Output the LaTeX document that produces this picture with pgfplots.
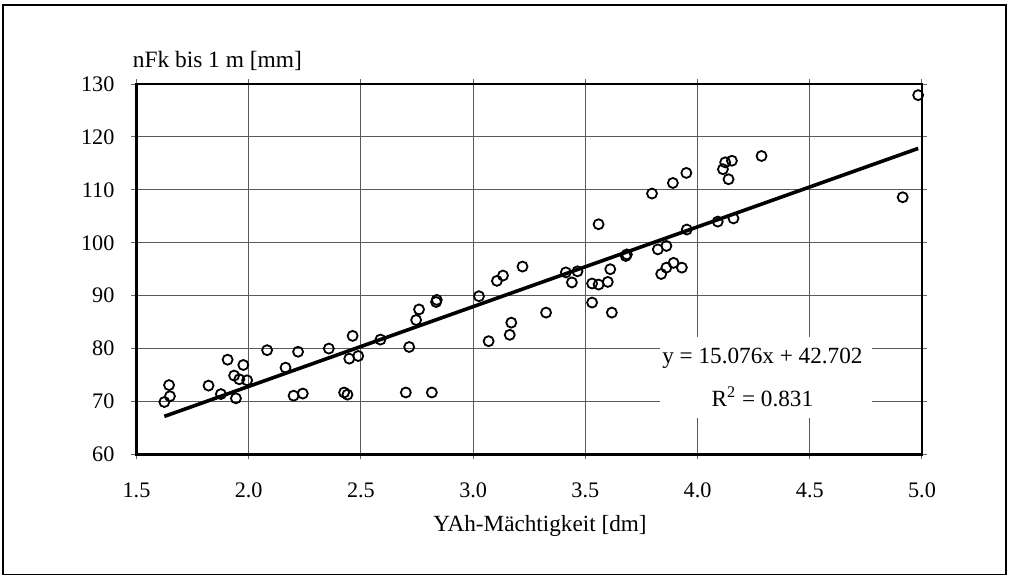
\documentclass[border=0pt]{standalone}
\usepackage{fontspec}
\setmainfont{Liberation Serif}
\usepackage{pgfplots}
\pgfplotsset{compat=1.18}
\begin{document}
\begin{tikzpicture}[x=1pt,y=1pt]
\useasboundingbox (0,0) rectangle (506.5,287.5);
\draw[line width=0.7pt] (1.5,0.3) rectangle (503,285);
\begin{axis}[
  at={(68.25pt,60.3pt)}, anchor=south west,
  scale only axis, width=392.75pt, height=185.2pt,
  xmin=1.5, xmax=5.0, ymin=60, ymax=130,
  xtick={1.5,2.0,2.5,3.0,3.5,4.0,4.5,5.0}, ytick={60,70,...,130},
  xticklabel style={/pgf/number format/fixed, /pgf/number format/fixed zerofill, /pgf/number format/precision=1, yshift=-8.3pt},
  /pgf/number format/assume math mode=true,
  ticklabel style={font=\fontsize{11.1}{13}\selectfont},
  yticklabel style={xshift=-5pt},
  tick align=outside, major tick length=2.5pt,
  tick style={black!60, line width=0.5pt},
  grid=major, grid style={black!65, line width=0.55pt},
  axis line style={line width=1.2pt},
  clip=false,
]
\addplot[only marks, mark=o, mark size=2.5pt, mark options={line width=0.9pt}] coordinates {
(1.624,69.9) (1.649,71.0) (1.645,73.1) (1.821,73.0) (1.876,71.4) (1.906,77.9)
(1.943,70.6) (1.935,74.9) (1.958,74.2) (1.976,76.9) (1.993,74.0) (2.082,79.7)
(2.164,76.4) (2.200,71.1) (2.241,71.5) (2.220,79.4) (2.357,80.0) (2.425,71.7)
(2.440,71.3) (2.463,82.4) (2.448,78.1) (2.488,78.6) (2.587,81.7) (2.715,80.3)
(2.700,71.7) (2.816,71.7) (2.746,85.4) (2.759,87.4) (2.835,88.8) (2.838,89.2)
(3.026,89.9) (3.069,81.4) (3.106,92.8) (3.133,93.8) (3.220,95.5) (3.170,84.9)
(3.163,82.6) (3.325,86.8) (3.413,94.4) (3.440,92.5) (3.465,94.6) (3.530,92.3)
(3.559,92.1) (3.600,92.6) (3.611,95.0) (3.530,88.7) (3.618,86.8) (3.559,103.5)
(3.680,97.5) (3.685,97.8) (3.797,109.3) (3.823,98.75) (3.861,99.4) (3.838,94.1)
(3.861,95.3) (3.893,96.2) (3.930,95.3) (3.890,111.3) (3.950,113.2) (3.952,102.5)
(4.090,104.0) (4.160,104.6) (4.113,113.9) (4.123,115.2) (4.153,115.5) (4.138,112.0)
(4.285,116.4) (4.983,127.9) (4.914,108.6)
};
\addplot[black, line width=1.8pt, no marks] coordinates {(1.624,67.185) (4.983,117.826)};
\fill[white] (axis cs:3.831,66.9) rectangle (axis cs:4.775,82.2);
\node[font=\fontsize{11.6}{13}\selectfont] at (axis cs:4.289,78.2) {y = 15.076x + 42.702};
\node[font=\fontsize{11.6}{13}\selectfont] at (axis cs:4.289,70.83) {R\textsuperscript{2} = 0.831};
\end{axis}
\node[anchor=west, inner sep=0pt, font=\fontsize{11.7}{13}\selectfont] at (66.2,257) {nFk bis 1 m [mm]};
\node[font=\fontsize{11.6}{13}\selectfont] at (270,24.5) {YAh-Mächtigkeit [dm]};
\end{tikzpicture}
\end{document}
